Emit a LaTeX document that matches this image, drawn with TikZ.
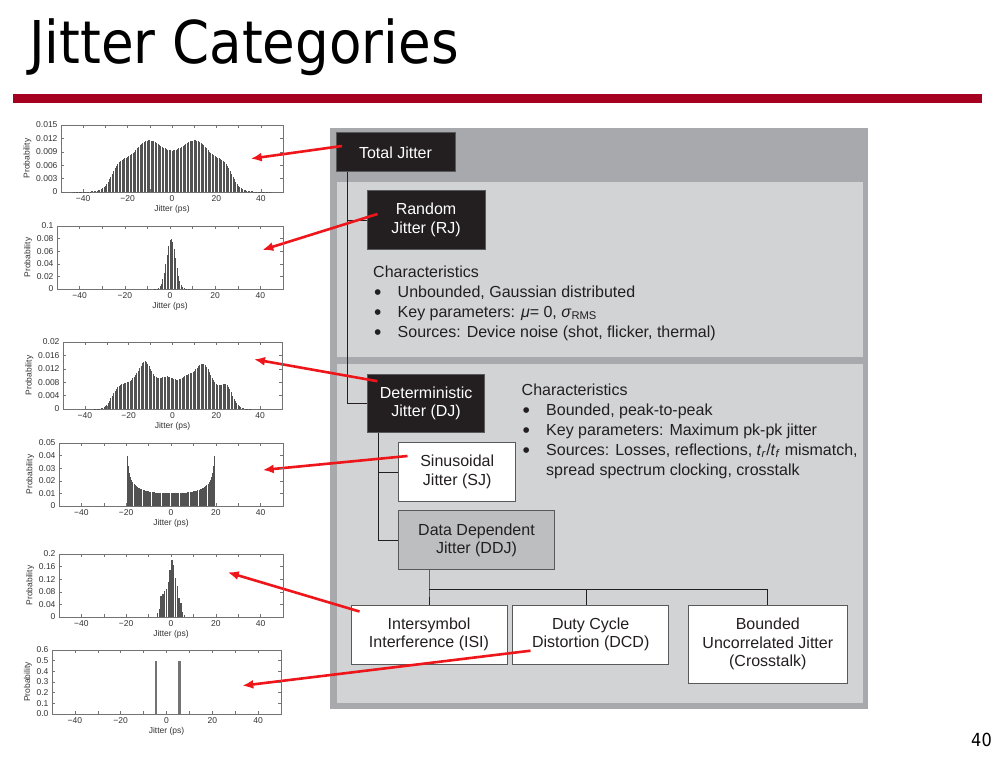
\documentclass[tikz,border=0pt]{standalone}
\usepackage{fontspec}
\setmainfont{Liberation Sans}
\newfontfamily\titlefont[FakeStretch=0.9]{DejaVu Sans}
\usepackage{pgfplots}
\pgfplotsset{compat=1.18}
\usetikzlibrary{arrows.meta}

\definecolor{slidered}{RGB}{166,0,33}
\definecolor{panelgray}{RGB}{167,169,172}
\definecolor{panellight}{RGB}{209,211,212}
\definecolor{ddjgray}{RGB}{188,190,192}
\definecolor{boxblack}{RGB}{35,31,32}
\definecolor{boxedge}{RGB}{88,89,91}
\definecolor{textdark}{RGB}{35,31,32}
\definecolor{pointred}{RGB}{238,22,26}

\newcommand{\boxfont}{\fontsize{16}{18.5}\selectfont}
\newcommand{\charfont}{\fontsize{16}{20}\selectfont}
\newcommand{\histfont}{\fontsize{8.5}{10}\selectfont}
\newcommand{\chbullet}{\makebox[24.5pt][l]{\hspace{0.8pt}\raisebox{-2.2pt}{\fontsize{21}{20}\selectfont•}}}

\pgfplotsset{
    jitterhist/.style={
        scale only axis, anchor=north west,
        xmin=-50, xmax=50, ymin=0,
        xtick={-40,-20,0,20,40}, xticklabels={−40,−20,0,20,40},
        minor xtick={-30,-10,10,30},
        scaled y ticks=false,
        ticklabel style={font=\histfont, text=black!80},
        label style={font=\histfont, text=black!80},
        xlabel={Jitter (ps)}, ylabel={Probability},
        xlabel style={yshift=3pt}, ylabel style={yshift=-2pt},
        axis line style={black!55, line width=0.6pt},
        tick style={black!55, line width=0.5pt},
        major tick length=3pt, minor tick length=3pt,
    },
    histbars/.style={ycomb, black!68, line width=1pt},
}

\begin{document}
\begin{tikzpicture}[declare function={gs(\x,\m,\s)=exp(-(\x-\m)*(\x-\m)/(2*\s*\s));}]
    \tikzstyle{dark box} = [fill=boxblack, draw=boxedge, line width=1pt, text=white, font=\boxfont, align=center, inner sep=0pt]
    \tikzstyle{white box} = [fill=white, draw=boxedge, line width=1pt, text=textdark, font=\boxfont, align=center, inner sep=0pt]
    \tikzstyle{gray box} = [fill=ddjgray, draw=boxedge, line width=1pt, text=textdark, font=\boxfont, align=center, inner sep=0pt]
    \tikzstyle{char list} = [font=\charfont, text=textdark, align=left, inner sep=0pt, anchor=north west]
    \tikzstyle{tree line} = [draw=textdark, line width=0.9pt]
    \tikzstyle{pointer} = [draw=pointred, line width=2.6pt, -{Latex[length=11pt,width=9pt]}]

    \fill[white] (0pt,0pt) rectangle (1003pt,-760pt);
    \useasboundingbox (0pt,0pt) rectangle (1003pt,-760pt);

    \begin{scope}[x=1pt, y=-1pt]
        \node[anchor=base west, inner sep=0pt, font=\titlefont\fontsize{59}{70}\selectfont] (title) at (29,63.5) {Jitter Categories};
        \fill[slidered] (13,94.3) rectangle (982,102.7);
        \node[anchor=base east, inner sep=0pt, font=\titlefont\fontsize{18}{20}\selectfont] (pagenum) at (992,746) {40};

        \fill[panelgray] (330,127.7) rectangle (868,709.3);
        \fill[panellight] (337,182) rectangle (863,357);
        \fill[panellight] (337,363.5) rectangle (863,703.3);

        \node[dark box, minimum width=119pt, minimum height=38.7pt] (tj) at (395.5,152.3) {Total Jitter};
        \node[dark box, minimum width=118pt, minimum height=58.6pt] (rj) at (426,220) {Random\\Jitter (RJ)};
        \node[char list] (rjchars) at (373,265.5) {Characteristics\\
            \chbullet Unbounded, Gaussian distributed\\
            \chbullet Key parameters: \textit{μ}= 0, \textit{σ}\textsubscript{RMS}\\
            \chbullet Sources: Device noise (shot, flicker, thermal)};

        \node[dark box, minimum width=117.7pt, minimum height=58.4pt] (dj) at (426.1,403.5) {Deterministic\\Jitter (DJ)};
        \node[char list] (djchars) at (521.5,383.3) {Characteristics\\
            \chbullet Bounded, peak-to-peak\\
            \chbullet Key parameters: Maximum pk-pk jitter\\
            \chbullet Sources: Losses, reflections, \textit{t}\textsubscript{\textit{r}}/\textit{t}\textsubscript{\textit{f}} mismatch,\\
            \hspace*{24.5pt}spread spectrum clocking, crosstalk};

        \node[white box, minimum width=117pt, minimum height=58.6pt] (sj) at (457.2,472) {Sinusoidal\\Jitter (SJ)};
        \node[gray box, minimum width=155.6pt, minimum height=59.3pt] (ddj) at (476.5,540.3) {Data Dependent\\Jitter (DDJ)};
        \node[white box, minimum width=156pt, minimum height=59pt] (isi) at (429,634.5) {Intersymbol\\Interference (ISI)};
        \node[white box, minimum width=156pt, minimum height=59pt] (dcd) at (590.7,634.5) {Duty Cycle\\Distortion (DCD)};
        \node[white box, minimum width=159pt, minimum height=78.3pt] (buj) at (767.8,644.2) {Bounded\\Uncorrelated Jitter\\(Crosstalk)};

        \coordinate (bus) at (429,589.3);
        \draw[tree line] ([xshift=12.3pt]tj.south west) |- (rj.west);
        \draw[tree line] ([xshift=12.3pt]tj.south west) |- (dj.west);
        \draw[tree line] ([xshift=12pt]dj.south west) |- (sj.west);
        \draw[tree line] ([xshift=12pt]dj.south west) |- (ddj.west);
        \draw[tree line] (bus |- ddj.south) -- (bus) -- (isi.north);
        \draw[tree line] (bus) -| (buj.north);
        \draw[tree line] ([xshift=-4.5pt]dcd.north |- bus) -- ([xshift=-4.5pt]dcd.north);

        \coordinate (tjtip) at (250.7,158.7);
        \coordinate (rjtip) at (262.3,250);
        \coordinate (djtip) at (254,359.3);
        \coordinate (sjtip) at (262.7,470);
        \coordinate (isitip) at (227.7,572.3);
        \coordinate (dcdtip) at (242.3,685.7);
        \draw[pointer] ([xshift=6.5pt,yshift=6.3pt]tj.west) -- (tjtip);
        \draw[pointer] ([xshift=11pt,yshift=6pt]rj.west) -- (rjtip);
        \draw[pointer] ([xshift=10.7pt,yshift=-7.4pt]dj.north west) -- (djtip);
        \draw[pointer] ([xshift=9.3pt,yshift=16pt]sj.west) -- (sjtip);
        \draw[pointer] ([xshift=9pt,yshift=-7pt]isi.north west) -- (isitip);
        \draw[pointer] ([xshift=18.3pt,yshift=-16.2pt]dcd.west) -- (dcdtip);
    \end{scope}

    \begin{axis}[jitterhist, at={(61pt,-125pt)}, width=222pt, height=67pt, ymax=0.015,
        ytick={0,0.003,0.006,0.009,0.012,0.015}, yticklabels={0,0.003,0.006,0.009,0.012,0.015}]
        \addplot[histbars, domain=-50:50, samples=161] {0.01117*(gs(x,11,8.3)+gs(x,-11,8.3))+0.0033*(gs(x,24,3.3)+gs(x,-24,3.3))};
    \end{axis}

    \begin{axis}[jitterhist, at={(57pt,-226pt)}, width=226pt, height=63pt, ymax=0.1,
        ytick={0,0.02,0.04,0.06,0.08,0.1}, yticklabels={0,0.02,0.04,0.06,0.08,0.1}]
        \addplot[histbars, domain=-50:50, samples=161] {0.08*gs(x,0.5,2)};
    \end{axis}

    \begin{axis}[jitterhist, at={(63pt,-342pt)}, width=219pt, height=67pt, ymax=0.02,
        ytick={0,0.004,0.008,0.012,0.016,0.02}, yticklabels={0,0.004,0.008,0.012,0.016,0.02}]
        \addplot[histbars, domain=-50:50, samples=161] {(0.0092*exp(-(x*x/400)*(x*x/400)*(x*x/400)*(x*x/400))*(1+0.0008*x*x)+0.0036*(gs(x,13,2.6)+gs(x,-13,2.6))+0.0072*(gs(x,24,3.2)+gs(x,-24,3.2)))*(1+0.05*sin(537*x))};
    \end{axis}

    \begin{axis}[jitterhist, at={(59pt,-443pt)}, width=224pt, height=63pt, ymax=0.05,
        ytick={0,0.01,0.02,0.03,0.04,0.05}, yticklabels={0,0.01,0.02,0.03,0.04,0.05}]
        \addplot[histbars, line width=0.85pt, domain=-19.5:19.5, samples=79] {min(0.2/sqrt(400-x*x),0.04)};
    \end{axis}

    \begin{axis}[jitterhist, at={(59pt,-554pt)}, width=224pt, height=63pt, ymax=0.2,
        ytick={0,0.04,0.08,0.12,0.16,0.2}, yticklabels={0,0.04,0.08,0.12,0.16,0.2}]
        \addplot[histbars, line width=1.4pt] coordinates {(-6,0.012) (-5.2,0.024) (-4.4,0.068) (-3.6,0.072) (-2.8,0.082) (-2,0.09) (-1.2,0.11) (-0.4,0.15) (0.4,0.18) (1.2,0.165) (2,0.125) (2.8,0.1) (3.6,0.06) (4.4,0.045) (5.2,0.015) (6,0.005)};
    \end{axis}

    \begin{axis}[jitterhist, at={(52pt,-650pt)}, width=229pt, height=64pt, ymax=0.6,
        ytick={0,0.1,0.2,0.3,0.4,0.5,0.6}, yticklabels={0.0,0.1,0.2,0.3,0.4,0.5,0.6}]
        \addplot[histbars, line width=2.2pt, black!55] coordinates {(-4.7,0.5) (5.7,0.5)};
    \end{axis}
\end{tikzpicture}
\end{document}
